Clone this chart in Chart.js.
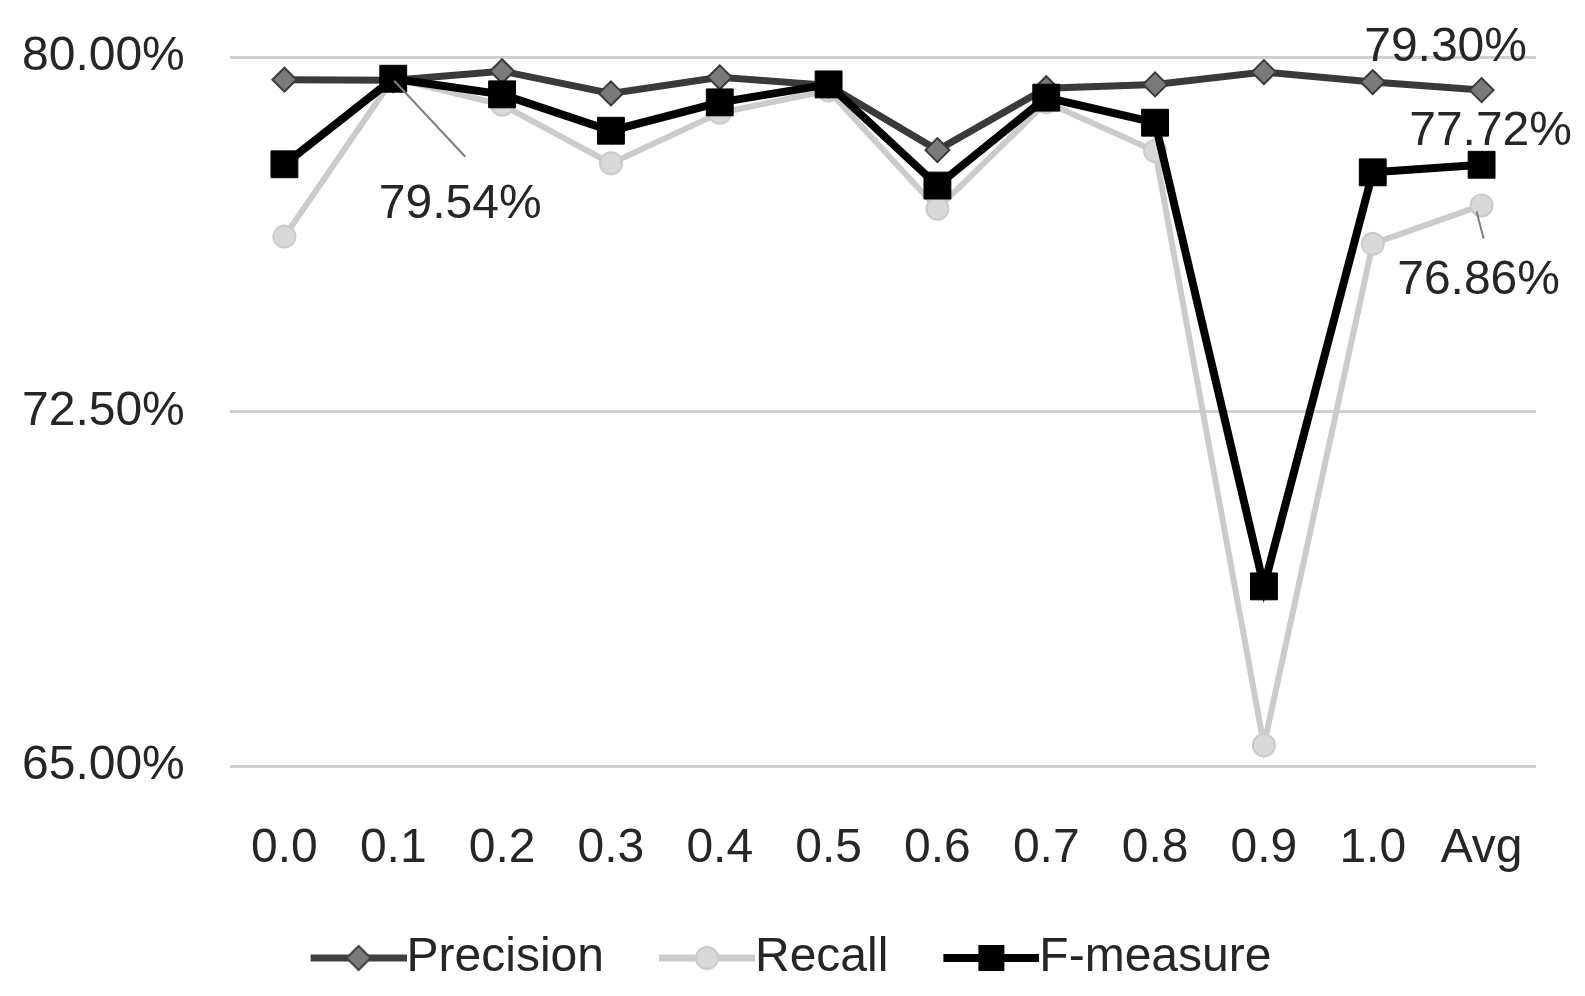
<!DOCTYPE html>
<html>
<head>
<meta charset="utf-8">
<title>Precision, Recall and F-measure by threshold</title>
<script src="https://cdn.jsdelivr.net/npm/chart.js@4.4.1/dist/chart.umd.min.js"></script>
<style>
  html, body { margin: 0; padding: 0; background: #fff; }
  #wrap { width: 1585px; height: 996px; }
</style>
</head>
<body>
<div id="wrap"><canvas id="prChart" width="1585" height="996"></canvas></div>
<script>
// values (percent)
const thresholds = ['0.0', '0.1', '0.2', '0.3', '0.4', '0.5', '0.6', '0.7', '0.8', '0.9', '1.0', 'Avg'];
const precision = [79.52, 79.51, 79.70, 79.23, 79.57, 79.40, 78.03, 79.34, 79.42, 79.68, 79.47, 79.30];
const recall    = [76.20, 79.55, 78.99, 77.75, 78.82, 79.29, 76.79, 79.04, 78.01, 65.44, 76.05, 76.86];
const fMeasure  = [77.73, 79.54, 79.21, 78.44, 79.04, 79.42, 77.28, 79.14, 78.61, 68.80, 77.56, 77.72];
const yTicks = [65, 72.5, 80];

const FONT = '"Liberation Sans", Arial, sans-serif';
const FSIZE = 48;
const TEXT = '#262626';

// which points carry a value label, and where it sits relative to the point
const pointLabels = [
  { ds: 2, i: 1,  dx: 67,  dy: 126, lead: [1, 2, 72, 78] },
  { ds: 0, i: 11, dx: -36, dy: -42 },
  { ds: 2, i: 11, dx: 9,   dy: -33 },
  { ds: 1, i: 11, dx: -3,  dy: 75,  lead: [-5, 6, 2, 33] }
];

// legend swatch: short line with the marker in the middle
// (left half-font of the image stays empty, it sits under the legend's own gap)
function swatch(lineColor, lineW, marker) {
  const c = document.createElement('canvas');
  c.width = 144; c.height = 36;
  const g = c.getContext('2d');
  g.strokeStyle = lineColor;
  g.lineWidth = lineW;
  g.beginPath(); g.moveTo(48, 18); g.lineTo(144, 18); g.stroke();
  marker(g, 96, 18);
  return c;
}

const legendImgs = [
  swatch('#404040', 7, (g, x, y) => {
    g.beginPath();
    g.moveTo(x - 12, y); g.lineTo(x, y - 12); g.lineTo(x + 12, y); g.lineTo(x, y + 12);
    g.closePath();
    g.fillStyle = '#7a7a7a'; g.fill();
    g.lineWidth = 2; g.strokeStyle = '#404040'; g.stroke();
  }),
  swatch('#cbcbcb', 7, (g, x, y) => {
    g.beginPath(); g.arc(x, y, 11, 0, Math.PI * 2);
    g.fillStyle = '#d9d9d9'; g.fill();
    g.lineWidth = 2; g.strokeStyle = '#cbcbcb'; g.stroke();
  }),
  swatch('#000000', 8, (g, x, y) => {
    g.fillStyle = '#000'; g.fillRect(x - 13, y - 13, 26, 26);
  })
];

const valueLabels = {
  id: 'valueLabels',
  afterDraw(chart) {
    const ctx = chart.ctx;
    ctx.save();
    ctx.font = FSIZE + 'px ' + FONT;
    ctx.fillStyle = TEXT;
    ctx.textAlign = 'center';
    ctx.textBaseline = 'middle';
    pointLabels.forEach(l => {
      const pt = chart.getDatasetMeta(l.ds).data[l.i];
      const v = chart.data.datasets[l.ds].data[l.i];
      if (l.lead) {
        ctx.strokeStyle = '#7f7f7f';
        ctx.lineWidth = 2;
        ctx.beginPath();
        ctx.moveTo(pt.x + l.lead[0], pt.y + l.lead[1]);
        ctx.lineTo(pt.x + l.lead[2], pt.y + l.lead[3]);
        ctx.stroke();
      }
      ctx.fillText(v.toFixed(2) + '%', pt.x + l.dx, pt.y + l.dy);
    });
    ctx.restore();
  }
};

new Chart(document.getElementById('prChart'), {
  type: 'line',
  data: {
    labels: thresholds,
    datasets: [
      {
        label: 'Precision',
        data: precision,
        borderColor: '#3a3a3a',
        borderWidth: 7,
        pointStyle: 'rectRot',
        pointRadius: 12,
        pointBackgroundColor: '#7a7a7a',
        pointBorderColor: '#3a3a3a',
        pointBorderWidth: 2,
        order: 1
      },
      {
        label: 'Recall',
        data: recall,
        borderColor: '#cbcbcb',
        borderWidth: 6,
        pointStyle: 'circle',
        pointRadius: 11,
        pointBackgroundColor: '#d9d9d9',
        pointBorderColor: '#cbcbcb',
        pointBorderWidth: 2,
        order: 2
      },
      {
        label: 'F-measure',
        data: fMeasure,
        borderColor: '#000000',
        borderWidth: 8,
        pointStyle: 'rect',
        pointRadius: 19,
        pointBackgroundColor: '#000000',
        pointBorderColor: '#000000',
        pointBorderWidth: 1,
        order: 0
      }
    ]
  },
  options: {
    responsive: false,
    devicePixelRatio: 1,
    animation: false,
    layout: { padding: { top: 57, right: 49, bottom: 4, left: 22 } },
    elements: { line: { tension: 0 } },
    datasets: { line: { clip: false } },
    scales: {
      x: {
        offset: true,
        grid: { display: false, drawTicks: false },
        border: { display: false },
        ticks: { color: TEXT, font: { family: FONT, size: FSIZE }, padding: 54, maxRotation: 0, autoSkip: false },
        afterFit(scale) { scale.height = 137; }
      },
      y: {
        min: 65,
        max: 80,
        afterBuildTicks(scale) { scale.ticks = yTicks.map(v => ({ value: v })); },
        grid: { color: '#d0d0d0', lineWidth: 3, drawTicks: false },
        border: { display: false },
        ticks: {
          color: TEXT,
          font: { family: FONT, size: FSIZE },
          padding: 0,
          crossAlign: 'far',
          callback: v => v.toFixed(2) + '%'
        },
        afterFit(scale) { scale.width = 208; }
      }
    },
    plugins: {
      tooltip: { enabled: false },
      legend: {
        position: 'bottom',
        labels: {
          usePointStyle: true,
          pointStyleWidth: 96,
          padding: 31,
          color: TEXT,
          font: { family: FONT, size: FSIZE },
          sort: (a, b) => a.datasetIndex - b.datasetIndex,
          generateLabels(chart) {
            const items = Chart.defaults.plugins.legend.labels.generateLabels(chart);
            items.forEach(it => { it.pointStyle = legendImgs[it.datasetIndex]; });
            return items;
          }
        }
      }
    }
  },
  plugins: [valueLabels]
});
</script>
</body>
</html>
